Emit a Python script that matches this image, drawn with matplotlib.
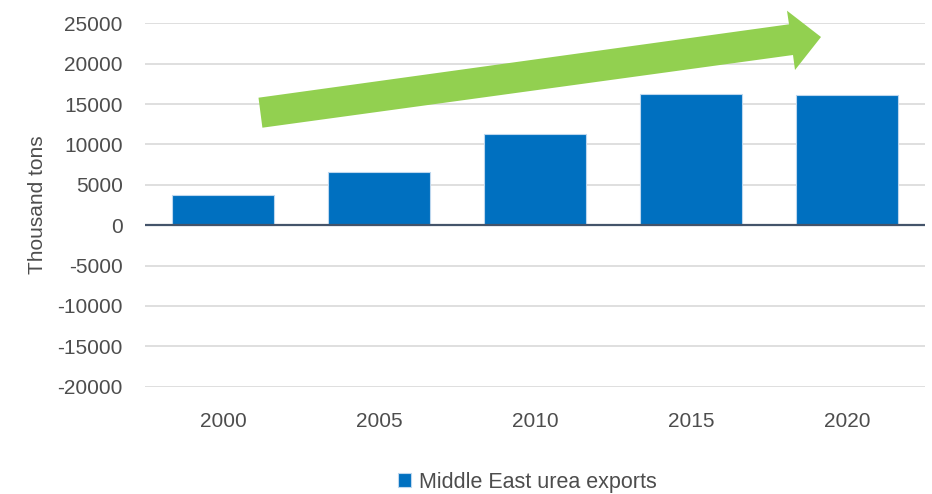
import matplotlib.pyplot as plt
from matplotlib.patches import Polygon

plt.rcParams['font.family'] = ['Liberation Sans', 'DejaVu Sans']
plt.rcParams['axes.unicode_minus'] = False

# Data
years = ['2000', '2005', '2010', '2015', '2020']
exports = [3700, 6600, 11300, 16250, 16150]
y_ticks = list(range(-20000, 25001, 5000))

text_color = '#4D4D4D'

fig = plt.figure(figsize=(9.32, 4.94), dpi=100)
ax = fig.add_axes([0.1556, 0.2172, 0.8369, 0.7356])

x = range(len(years))
ax.bar(x, exports, width=0.655, color='#0070C0', edgecolor='#BDD7EE',
       linewidth=0.8, label='Middle East urea exports', zorder=3)

ax.set_xlim(-0.5, len(years) - 0.5)
ax.set_ylim(-20000, 25000)
ax.set_yticks(y_ticks)
ax.set_xticks(list(x))
ax.set_xticklabels(years)

ax.grid(axis='y', color='#D9D9D9', linewidth=1.2, zorder=0)
ax.axhline(0, color='#44546A', linewidth=1.6, zorder=4)
for s in ax.spines.values():
    s.set_visible(False)
ax.tick_params(axis='both', length=0, labelsize=15, colors=text_color)
ax.tick_params(axis='y', pad=16)
ax.tick_params(axis='x', pad=18)
ax.set_ylabel('Thousand tons', fontsize=15, color=text_color)
ax.yaxis.set_label_coords(-0.126, 0.5)

# Green trend arrow (figure pixel coords -> figure fraction)
W, H = 932, 494
arrow_px = [(262.4, 127.7), (258.5, 97.7), (789, 24.3), (787, 10.7),
            (821, 37), (795, 70), (793, 55)]
arrow = Polygon([(px / W, 1 - py / H) for px, py in arrow_px], closed=True,
                transform=fig.transFigure, facecolor='#92D050',
                edgecolor='none', zorder=5)
fig.patches.append(arrow)

leg = fig.legend(loc='center', bbox_to_anchor=(0.566, 0.024), frameon=False,
                 fontsize=15.5, handlelength=0.6, handleheight=0.6,
                 handletextpad=0.4)
for t in leg.get_texts():
    t.set_color(text_color)

fig.savefig('out.png', dpi=100)
